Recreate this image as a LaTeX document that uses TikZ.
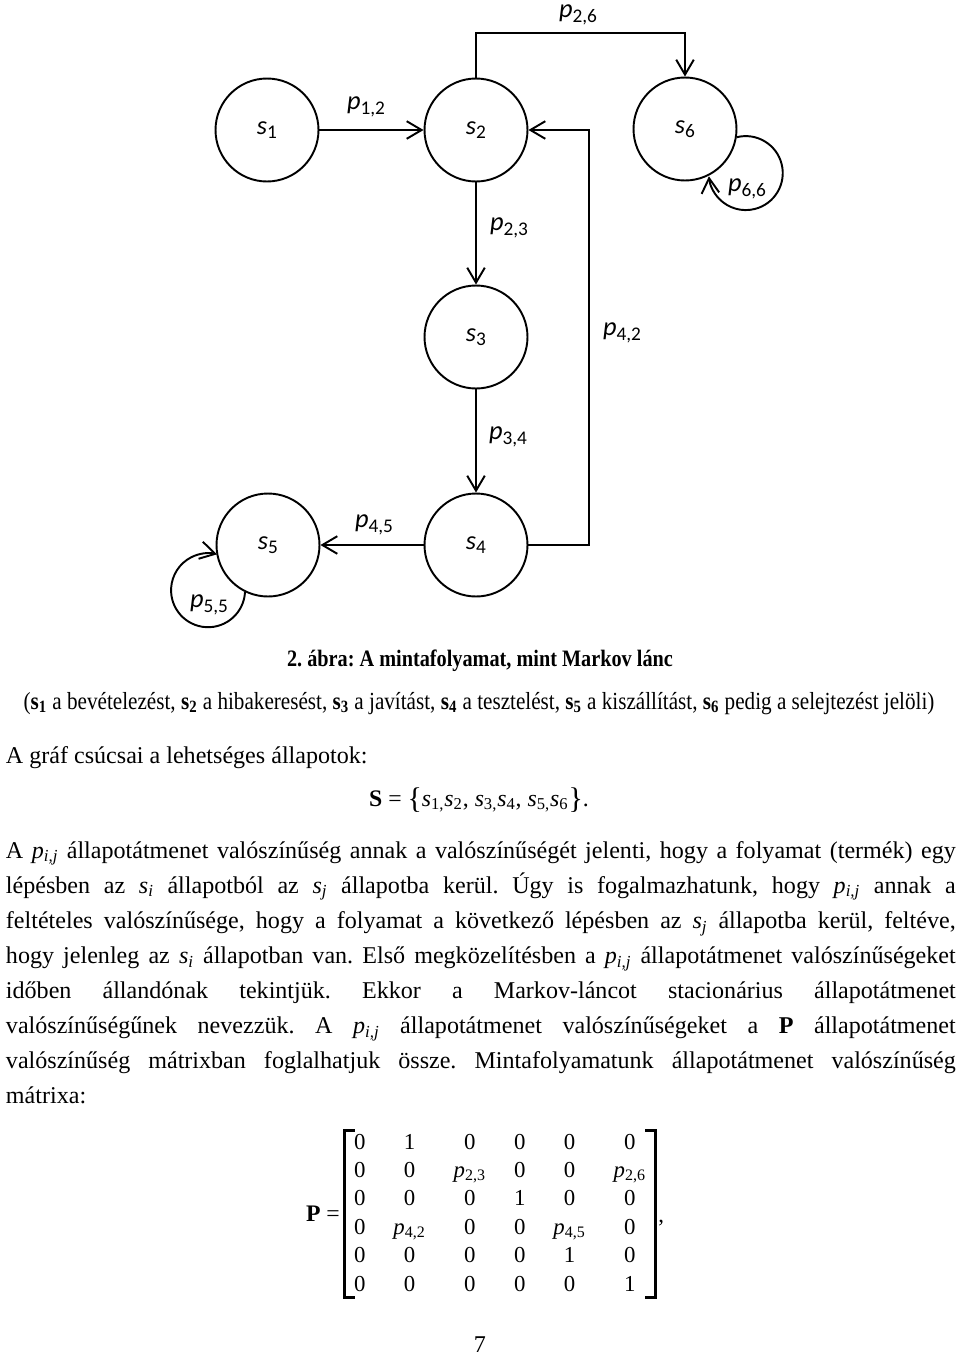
\documentclass[tikz,border=0pt]{standalone}
\usepackage{fontspec}
\setmainfont{Liberation Serif}
\newfontfamily\diagfont{Carlito}
\newfontfamily\capfont{Liberation Serif}[FakeStretch=0.86]
\usetikzlibrary{arrows.meta, matrix}
\newcommand{\stname}[1]{\textit{s}\raisebox{-2.6pt}{\fontsize{11}{11}\selectfont #1}}
\newcommand{\prname}[1]{\textit{p}\raisebox{-2.6pt}{\fontsize{11}{11}\selectfont #1}}
\newcommand{\tp}[1]{\textit{p}\textsubscript{#1}}
\newcommand{\ts}[1]{\textit{s}\textsubscript{#1}}
\tikzset{
  every picture/.style={line width=1.1pt},
  state/.style={draw, circle, minimum size=2.06cm, inner sep=0pt, font=\diagfont\fontsize{15}{17}\selectfont},
  prob/.style={font=\diagfont\fontsize{15}{17}\selectfont, inner sep=0pt},
  arr/.style={-{Straight Barb[length=8.5pt, width=10pt]}},
  body/.style={font=\fontsize{13.7}{20}\selectfont\frenchspacing, inner sep=0pt},
  capt/.style={font=\capfont\fontsize{13.4}{20}\selectfont\frenchspacing, inner sep=0pt},
  brk/.style={line width=1.6pt},
}
\begin{document}
\begin{tikzpicture}[x=0.02cm, y=0.02cm]
  \useasboundingbox (0,0) rectangle (960,-1356);
  % states of the chain
  \node[state] (s1) at (267,-130) {\stname{1}};
  \node[state] (s2) at (476,-130) {\stname{2}};
  \node[state] (s6) at (685,-129) {\stname{6}};
  \node[state] (s3) at (476,-337) {\stname{3}};
  \node[state] (s4) at (476,-545) {\stname{4}};
  \node[state] (s5) at (268,-545) {\stname{5}};
  % transitions
  \draw[arr] (s1) -- (s2);
  \draw[arr] (s2.north) -- ++(0,45) -| (s6.north);
  \draw[arr] (s2) -- (s3);
  \draw[arr] (s3) -- (s4);
  \draw[arr] (s4) -- (s5);
  \draw[arr] (s4.east) -- ++(61,0) |- (s2.east);
  \draw[arr] (s6.-9) arc[start angle=104, end angle=-175, radius=0.74cm];
  \draw[arr] (s5.-116) arc[start angle=-3, end angle=-284, radius=0.74cm];
  \node[prob] (p12) at (366,-107) {\prname{1,2}};
  \node[prob] (p26) at (578,-15) {\prname{2,6}};
  \node[prob] (p23) at (509,-228) {\prname{2,3}};
  \node[prob] (p42) at (622,-333) {\prname{4,2}};
  \node[prob] (p34) at (508,-437) {\prname{3,4}};
  \node[prob] (p45) at (374,-525) {\prname{4,5}};
  \node[prob] (p66) at (747,-189) {\prname{6,6}};
  \node[prob] (p55) at (209,-605) {\prname{5,5}};
  % caption and text
  \node[capt, anchor=base] (cap) at (480,-666) {\bfseries 2. ábra: A mintafolyamat, mint Markov lánc};
  \node[capt, font=\capfont\fontsize{14}{20}\selectfont, anchor=base] (leg) at (479,-709) {(\textbf{s}\textsubscript{\textbf{1}} a bevételezést, \textbf{s}\textsubscript{\textbf{2}} a hibakeresést, \textbf{s}\textsubscript{\textbf{3}} a javítást, \textbf{s}\textsubscript{\textbf{4}} a tesztelést, \textbf{s}\textsubscript{\textbf{5}} a kiszállítást, \textbf{s}\textsubscript{\textbf{6}} pedig a selejtezést jelöli)};
  \node[body, anchor=base west] (intro) at (5,-763) {A gráf csúcsai a lehetséges állapotok:};
  \node[body, font=\fontsize{13.5}{15}\selectfont, anchor=base] (set) at (479,-806) {\textbf{S} = \raisebox{-1.5pt}{\fontsize{17}{17}\selectfont\{}\ts{1,}\ts{2}, \ts{3,}\ts{4}, \ts{5,}\ts{6}\raisebox{-1.5pt}{\fontsize{17}{17}\selectfont\}}.};
  \node[body, anchor=base west, text width=19cm, align=justify] (par) at (5,-858) {\tolerance=10000\hyphenpenalty=10000
    A \tp{\textit{i,j}} állapotátmenet valószínűség annak a valószínűségét jelenti, hogy a folyamat (termék) egy\linebreak
    lépésben az \ts{\textit{i}} állapotból az \ts{\textit{j}} állapotba kerül. Úgy is fogalmazhatunk, hogy \tp{\textit{i,j}} annak a\linebreak
    feltételes valószínűsége, hogy a folyamat a következő lépésben az \ts{\textit{j}} állapotba kerül, feltéve,\linebreak
    hogy jelenleg az \ts{\textit{i}} állapotban van. Első megközelítésben a \tp{\textit{i,j}} állapotátmenet valószínűségeket\linebreak
    időben állandónak tekintjük. Ekkor a Markov-láncot stacionárius állapotátmenet\linebreak
    valószínűségűnek nevezzük. A \tp{\textit{i,j}} állapotátmenet valószínűségeket a \textbf{P} állapotátmenet\linebreak
    valószínűség mátrixban foglalhatjuk össze. Mintafolyamatunk állapotátmenet valószínűség\linebreak
    mátrixa:};
  % transition matrix
  \matrix (pm) [matrix of nodes, column sep=0.56cm, row sep=3.2pt, inner xsep=5pt, inner ysep=0pt,
    nodes={inner sep=0pt, text height=10pt, text depth=3pt, font=\fontsize{13}{15}\selectfont}] at (500,-1214) {
    0 & 1 & 0 & 0 & 0 & 0 \\
    0 & 0 & \tp{2,3} & 0 & 0 & \tp{2,6} \\
    0 & 0 & 0 & 1 & 0 & 0 \\
    0 & \tp{4,2} & 0 & 0 & \tp{4,5} & 0 \\
    0 & 0 & 0 & 0 & 1 & 0 \\
    0 & 0 & 0 & 0 & 0 & 1 \\
  };
  \draw[brk] ([xshift=6pt]pm.north west) -| (pm.south west) -- ++(6pt,0);
  \draw[brk] ([xshift=-6pt]pm.north east) -| (pm.south east) -- ++(-6pt,0);
  \node[body, font=\fontsize{13.5}{15}\selectfont, anchor=east, inner sep=2pt] (peq) at (pm.west) {\textbf{P} =};
  \node[body, font=\fontsize{13}{15}\selectfont, anchor=base west, inner sep=1pt] (pcm) at ([yshift=-5pt]pm.east) {,};
  \node[body, anchor=base] (pg) at (480,-1352) {7};
\end{tikzpicture}
\end{document}
